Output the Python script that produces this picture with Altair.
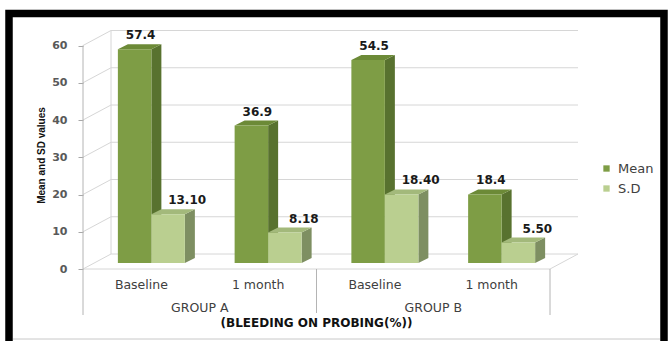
import altair as alt
import pandas as pd

# ---------------- data ----------------
periods = ["Baseline", "1 month", "Baseline", "1 month"]
groups = ["GROUP A", "GROUP B"]
series_names = ["Mean", "S.D"]
mean_values = [57.4, 36.9, 54.5, 18.4]
sd_values = [13.10, 8.18, 18.40, 5.50]
mean_text = ["57.4", "36.9", "54.5", "18.4"]
sd_text = ["13.10", "8.18", "18.40", "5.50"]
y_ticks = [0, 10, 20, 30, 40, 50, 60]
y_title = "Mean and SD values"
x_title = "(BLEEDING ON PROBING(%))"

# ---------------- layout (pixels) ----------------
W, H = 670, 341
FRONT_LEFT = 83.0     # front-left corner of the floor
SLOT = 116.75         # width of one category slot
ZERO = 269.0          # value 0 on the front edge
PPU = 3.725           # pixels per value unit
WALL_DX, WALL_DY = 28.0, 15.0   # depth of the 3-D walls
BAR_DX, BAR_DY = 10.0, 5.0      # depth of each 3-D bar
BAR_W = 33.5
PAIR_SHIFT = 10.0
BAR_LIFT = 6.0
LABEL_SHIFT = {"Mean": 6.0, "S.D": 19.0}


def ux(px):
    return px / SLOT


def uy(px):
    return px / PPU


X0 = -0.5
X1 = X0 + len(periods)
DXW, DYW = ux(WALL_DX), uy(WALL_DY)
DXB, DYB = ux(BAR_DX), uy(BAR_DY)
BW = ux(BAR_W)
BASE = uy(BAR_LIFT)

xs = alt.Scale(domain=[X0 - ux(FRONT_LEFT), X0 + ux(W - FRONT_LEFT)], nice=False, zero=False)
ys = alt.Scale(domain=[-uy(H - ZERO), uy(ZERO)], nice=False, zero=False)

yaxis = alt.Axis(
    values=y_ticks, offset=-FRONT_LEFT, domain=False, grid=False,
    tickSize=5, tickColor="#A8A8A8", tickWidth=1,
    labelFont="DejaVu Sans", labelFontSize=11, labelFontWeight="bold",
    labelColor="#595959", labelPadding=11,
    title=y_title, titleFont="Liberation Sans",
    titleFontSize=10, titleFontWeight="bold", titleColor="#111111", titleAngle=270,
    titleX=41.5 - FRONT_LEFT, titleY=155, titleAlign="center", titleBaseline="middle",
)


def X(f):
    return alt.X(f, type="quantitative", scale=xs, axis=None)


def Y(f):
    return alt.Y(f, type="quantitative", scale=ys, axis=yaxis)


COL = {
    "Mean": {"front": "#7E9D45", "top": "#6C8A37", "side": "#58722F"},
    "S.D": {"front": "#BACF90", "top": "#A3B97B", "side": "#7E8F62"},
}

# ---------------- bar geometry ----------------
bars, sides, tops = [], [], []
for i in range(len(periods)):
    pc = i + ux(PAIR_SHIFT)
    for s, vals, txt in (("Mean", mean_values, mean_text), ("S.D", sd_values, sd_text)):
        v = vals[i]
        xl = pc - BW if s == "Mean" else pc
        xr = xl + BW
        top = BASE + v
        bid = f"{s}-{i}"
        bars.append(dict(id=bid, series=s, xl=xl, xr=xr, base=BASE, top=top,
                         label=txt[i], lx=(xl + xr) / 2 + ux(LABEL_SHIFT[s])))
        c = COL[s]
        sides += [
            dict(id=bid, x=xr, y=top, y2=BASE, fill=c["side"]),
            dict(id=bid, x=xr + DXB, y=top + DYB, y2=BASE + DYB, fill=c["side"]),
        ]
        tops += [
            dict(id=bid, x=xl, y=top, y2=top, fill=c["top"]),
            dict(id=bid, x=xl + DXB, y=top + DYB, y2=top, fill=c["top"]),
            dict(id=bid, x=xr, y=top + DYB, y2=top, fill=c["top"]),
            dict(id=bid, x=xr + DXB, y=top + DYB, y2=top + DYB, fill=c["top"]),
        ]
bars_df = pd.DataFrame(bars)
sides_df = pd.DataFrame(sides)
tops_df = pd.DataFrame(tops)

# ---------------- walls, floor and axis lines ----------------
GRID = "#D6D6D6"
AXC = "#B4B4B4"
lines = []
for v in y_ticks:
    lines.append(dict(x=X0 + DXW, x2=X1 + DXW, y=v + DYW, y2=v + DYW, c=GRID))
    lines.append(dict(x=X0, x2=X0 + DXW, y=v, y2=v + DYW, c=GRID))
lines.append(dict(x=X0 + DXW, x2=X0 + DXW, y=DYW, y2=max(y_ticks) + DYW, c=GRID))
lines.append(dict(x=X0, x2=X1, y=0, y2=0, c=GRID))
lines.append(dict(x=X1, x2=X1 + DXW, y=0, y2=DYW, c=GRID))
lines.append(dict(x=X0, x2=X0, y=max(y_ticks), y2=-uy(46), c=AXC))
lines.append(dict(x=X0 + 2, x2=X0 + 2, y=0, y2=-uy(44), c=AXC))
lines.append(dict(x=X1, x2=X1, y=0, y2=-uy(46), c=AXC))
lines_df = pd.DataFrame(lines)

wall = alt.Chart(lines_df).mark_rule(strokeWidth=1).encode(
    x=X("x"), x2="x2", y=Y("y"), y2="y2", stroke=alt.Stroke("c:N", scale=None)
)

side_layer = alt.Chart(sides_df).mark_area().encode(
    x=X("x"), y=alt.Y("y", type="quantitative", scale=ys, axis=yaxis, stack=None),
    y2="y2", detail="id:N", fill=alt.Fill("fill:N", scale=None)
)
top_layer = alt.Chart(tops_df).mark_area().encode(
    x=X("x"), y=alt.Y("y", type="quantitative", scale=ys, axis=yaxis, stack=None),
    y2="y2", detail="id:N", fill=alt.Fill("fill:N", scale=None)
)
front_layer = alt.Chart(bars_df).mark_rect().encode(
    x=X("xl"), x2="xr", y=Y("base"), y2="top",
    color=alt.Color(
        "series:N",
        scale=alt.Scale(domain=series_names, range=[COL["Mean"]["front"], COL["S.D"]["front"]]),
        legend=alt.Legend(
            orient="none", legendX=600, legendY=162, title=None, padding=0,
            symbolType="square", symbolSize=40, symbolStrokeWidth=0,
            labelFont="DejaVu Sans", labelFontSize=13, labelColor="#404040",
            labelOffset=5, rowPadding=6,
        ),
    ),
)

value_labels = alt.Chart(bars_df).mark_text(
    font="DejaVu Sans", fontSize=12, fontWeight="bold", color="#1A1A1A",
    baseline="alphabetic", dy=-10,
).encode(x=X("lx"), y=Y("top"), text="label:N")

cat_df = pd.DataFrame({"x": list(range(len(periods))), "t": periods})
cat_labels = alt.Chart(cat_df).mark_text(
    font="DejaVu Sans", fontSize=12.5, color="#404040", baseline="middle"
).encode(x=X("x"), y=alt.value(285), text="t:N")

grp_df = pd.DataFrame({"x": [0.5, 2.5], "t": groups})
grp_labels = alt.Chart(grp_df).mark_text(
    font="DejaVu Sans", fontSize=12.5, color="#404040", baseline="middle"
).encode(x=X("x"), y=alt.value(308), text="t:N")

title_df = pd.DataFrame({"x": [(X0 + X1) / 2], "t": [x_title]})
x_title_layer = alt.Chart(title_df).mark_text(
    font="DejaVu Sans", fontSize=12, fontWeight="bold", color="#111111", baseline="middle"
).encode(x=X("x"), y=alt.value(323), text="t:N")

one = pd.DataFrame({"k": [0]})
inner_line = alt.Chart(one).mark_rule(color="#C8C8C8", strokeWidth=1).encode(
    x=alt.value(13), x2=alt.value(660), y=alt.value(339)
)
frame = alt.Chart(one).mark_rect(fillOpacity=0, stroke="#000000", strokeWidth=7.5).encode(
    x=alt.value(9), x2=alt.value(664), y=alt.value(13.5), y2=alt.value(370)
)

chart = alt.layer(
    wall, side_layer, top_layer, front_layer, value_labels,
    cat_labels, grp_labels, x_title_layer, inner_line, frame,
).properties(
    width=W, height=H, padding=0, autosize=alt.AutoSizeParams(type="none"),
    background="#FFFFFF",
).configure_view(stroke=None)

chart.save("out.html", embed_options={"renderer": "svg", "actions": False})
